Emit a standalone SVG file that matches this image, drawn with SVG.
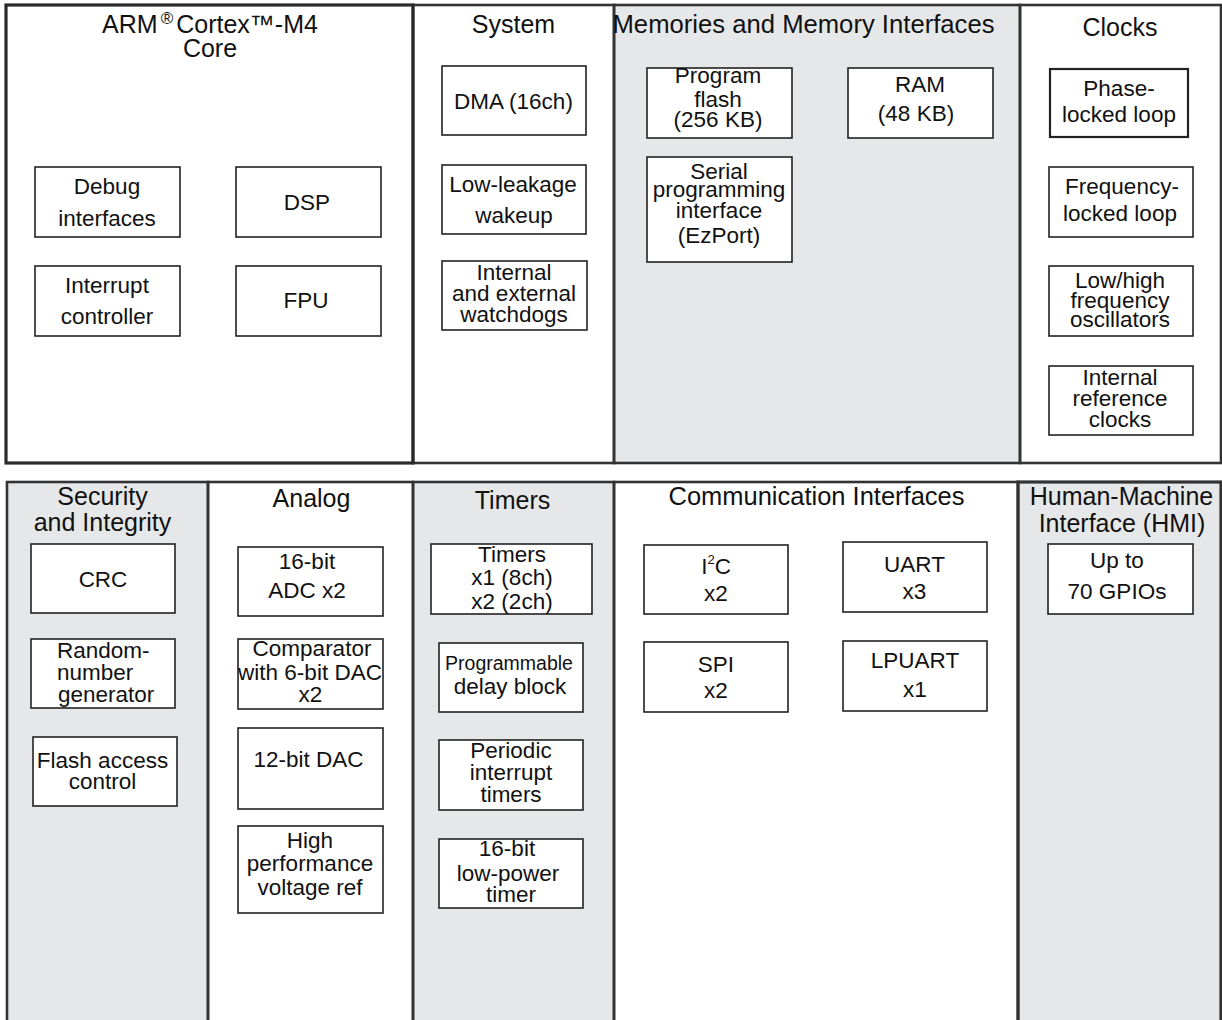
<svg xmlns="http://www.w3.org/2000/svg" width="1222" height="1020" viewBox="0 0 1222 1020">
<style>
text{font-family:"Liberation Sans",Arial,Helvetica,sans-serif;fill:#111;text-anchor:middle}
.ttl{font-size:25px}
.t{font-size:22.5px}
.box{fill:#fff;stroke:#222;stroke-width:1.6}
.pw{fill:#fff}
.pg{fill:#e6e7e8}
.pb{fill:none;stroke:#333;stroke-width:2.6}
</style>
<rect x="0" y="0" width="1222" height="1020" fill="#fff"/>
<g id="panels">
<g id="panel-core"><rect class="pw" x="6" y="5" width="407" height="458"/></g>
<g id="panel-system"><rect class="pw" x="413" y="5" width="201" height="458"/></g>
<g id="panel-memories"><rect class="pg" x="614" y="5" width="406" height="458"/></g>
<g id="panel-clocks"><rect class="pw" x="1020" y="5" width="201" height="458"/></g>
<g id="panel-security"><rect class="pg" x="7" y="482" width="201" height="545"/></g>
<g id="panel-analog"><rect class="pw" x="208" y="482" width="205" height="545"/></g>
<g id="panel-timers"><rect class="pg" x="413" y="482" width="201" height="545"/></g>
<g id="panel-comm"><rect class="pw" x="614" y="482" width="404" height="545"/></g>
<g id="panel-hmi"><rect class="pg" x="1018" y="482" width="203" height="545"/></g>
<g id="panel-borders">
<rect class="pb" x="413" y="5" width="201" height="458"/>
<rect class="pb" x="614" y="5" width="406" height="458"/>
<rect class="pb" x="1020" y="5" width="201" height="458"/>
<rect class="pb" x="6" y="5" width="407" height="458" style="stroke-width:3.2;stroke:#2a2a2a"/>
<rect class="pb" x="7" y="482" width="201" height="545"/>
<rect class="pb" x="208" y="482" width="205" height="545"/>
<rect class="pb" x="413" y="482" width="201" height="545"/>
<rect class="pb" x="614" y="482" width="404" height="545"/>
<rect class="pb" x="1018" y="482" width="203" height="545" style="stroke-width:3.2"/>
</g>
<g id="titles">
<text class="ttl" x="210" y="33">ARM<tspan dx="3" dy="-9" font-size="17">®</tspan><tspan dx="3" dy="9">Cortex™-M4</tspan></text>
<text class="ttl" x="210" y="57">Core</text>
<text class="ttl" x="513.5" y="33">System</text>
<text class="ttl" x="803.5" y="33" textLength="382" lengthAdjust="spacingAndGlyphs">Memories and Memory Interfaces</text>
<text class="ttl" x="1120" y="36">Clocks</text>
<text class="ttl" x="102.5" y="505">Security</text>
<text class="ttl" x="102.5" y="531">and Integrity</text>
<text class="ttl" x="311.5" y="507">Analog</text>
<text class="ttl" x="512.5" y="509">Timers</text>
<text class="ttl" x="816.5" y="505" textLength="296" lengthAdjust="spacingAndGlyphs">Communication Interfaces</text>
<text class="ttl" x="1121.5" y="505">Human-Machine</text>
<text class="ttl" x="1122" y="532">Interface (HMI)</text>
</g>
</g>
<g id="connectors"/>
<g id="nodes">
<g id="debug"><rect class="box" x="35" y="167" width="145" height="70"/><text class="t" x="107" y="194">Debug</text><text class="t" x="107" y="226">interfaces</text></g>
<g id="dsp"><rect class="box" x="236" y="167" width="145" height="70"/><text class="t" x="307" y="210">DSP</text></g>
<g id="interrupt"><rect class="box" x="35" y="266" width="145" height="70"/><text class="t" x="107" y="293">Interrupt</text><text class="t" x="107" y="324">controller</text></g>
<g id="fpu"><rect class="box" x="236" y="266" width="145" height="70"/><text class="t" x="306" y="308">FPU</text></g>
<g id="dma"><rect class="box" x="442" y="66" width="144" height="69"/><text class="t" x="513.5" y="109">DMA (16ch)</text></g>
<g id="lowleak"><rect class="box" x="442" y="165" width="144" height="69"/><text class="t" x="513" y="192">Low-leakage</text><text class="t" x="514" y="223">wakeup</text></g>
<g id="watchdogs"><rect class="box" x="442" y="261" width="145" height="69"/><text class="t" x="514" y="280">Internal</text><text class="t" x="514" y="301">and external</text><text class="t" x="514" y="322">watchdogs</text></g>
<g id="progflash"><rect class="box" x="647" y="68" width="145" height="70"/><text class="t" x="718" y="83">Program</text><text class="t" x="718" y="106.5">flash</text><text class="t" x="718" y="126.5">(256 KB)</text></g>
<g id="ezport"><rect class="box" x="647" y="157" width="145" height="105"/><text class="t" x="719" y="179">Serial</text><text class="t" x="719" y="197">programming</text><text class="t" x="719" y="218">interface</text><text class="t" x="719" y="243">(EzPort)</text></g>
<g id="ram"><rect class="box" x="848" y="68" width="145" height="70"/><text class="t" x="920" y="92">RAM</text><text class="t" x="916" y="121">(48 KB)</text></g>
<g id="pll"><rect class="box" x="1050" y="69" width="138" height="68" style="stroke-width:2.2"/><text class="t" x="1119" y="96">Phase-</text><text class="t" x="1119" y="122">locked loop</text></g>
<g id="fll"><rect class="box" x="1049" y="167" width="144" height="70"/><text class="t" x="1122" y="194">Frequency-</text><text class="t" x="1120" y="221">locked loop</text></g>
<g id="osc"><rect class="box" x="1049" y="266" width="144" height="70"/><text class="t" x="1120" y="288">Low/high</text><text class="t" x="1120" y="307.5">frequency</text><text class="t" x="1120" y="327">oscillators</text></g>
<g id="irc"><rect class="box" x="1049" y="366" width="144" height="69"/><text class="t" x="1120" y="385">Internal</text><text class="t" x="1120" y="406">reference</text><text class="t" x="1120" y="427">clocks</text></g>
<g id="crc"><rect class="box" x="31" y="544" width="144" height="69"/><text class="t" x="103" y="587">CRC</text></g>
<g id="rng"><rect class="box" x="31" y="639" width="144" height="69"/><text class="t" x="57" y="657.5" style="text-anchor:start">Random-</text><text class="t" x="57" y="680" style="text-anchor:start">number</text><text class="t" x="58" y="701.5" style="text-anchor:start">generator</text></g>
<g id="fac"><rect class="box" x="33" y="737" width="144" height="69"/><text class="t" x="102.5" y="768">Flash access</text><text class="t" x="102.5" y="788.5">control</text></g>
<g id="adc"><rect class="box" x="238" y="547" width="145" height="69"/><text class="t" x="307" y="569">16-bit</text><text class="t" x="307" y="598">ADC x2</text></g>
<g id="cmp"><rect class="box" x="238" y="639" width="145" height="70"/><text class="t" x="312" y="656">Comparator</text><text class="t" x="310" y="680">with 6-bit DAC</text><text class="t" x="310.5" y="701.5">x2</text></g>
<g id="dac"><rect class="box" x="238" y="728" width="145" height="81"/><text class="t" x="308.5" y="766.5">12-bit DAC</text></g>
<g id="vref"><rect class="box" x="238" y="826" width="145" height="87"/><text class="t" x="310" y="848">High</text><text class="t" x="310" y="870.5">performance</text><text class="t" x="310" y="894.5">voltage ref</text></g>
<g id="tmr"><rect class="box" x="431" y="544" width="161" height="70"/><text class="t" x="512" y="562">Timers</text><text class="t" x="512" y="585">x1 (8ch)</text><text class="t" x="512" y="608.5">x2 (2ch)</text></g>
<g id="pdb"><rect class="box" x="439" y="643" width="144" height="69"/><text x="509" y="670" style="font-size:19.5px">Programmable</text><text class="t" x="510" y="694">delay block</text></g>
<g id="pit"><rect class="box" x="439" y="740" width="144" height="70"/><text class="t" x="511" y="758">Periodic</text><text class="t" x="511" y="780">interrupt</text><text class="t" x="511" y="801.5">timers</text></g>
<g id="lptmr"><rect class="box" x="439" y="839" width="144" height="69"/><text class="t" x="507" y="856">16-bit</text><text class="t" x="508" y="880.5">low-power</text><text class="t" x="511" y="901.5">timer</text></g>
<g id="i2c"><rect class="box" x="644" y="545" width="144" height="69"/><text class="t" x="716" y="574">I<tspan dy="-10" font-size="13">2</tspan><tspan dy="10">C</tspan></text><text class="t" x="716" y="600.5">x2</text></g>
<g id="spi"><rect class="box" x="644" y="642" width="144" height="70"/><text class="t" x="716" y="672">SPI</text><text class="t" x="716" y="698">x2</text></g>
<g id="uart"><rect class="box" x="843" y="542" width="144" height="70"/><text class="t" x="914.5" y="572">UART</text><text class="t" x="914.5" y="598.5">x3</text></g>
<g id="lpuart"><rect class="box" x="843" y="641" width="144" height="70"/><text class="t" x="915" y="668">LPUART</text><text class="t" x="915" y="697">x1</text></g>
<g id="gpio"><rect class="box" x="1048" y="544" width="145" height="70"/><text class="t" x="1117" y="567.5">Up to</text><text class="t" x="1117" y="599">70 GPIOs</text></g>
</g>
</svg>
